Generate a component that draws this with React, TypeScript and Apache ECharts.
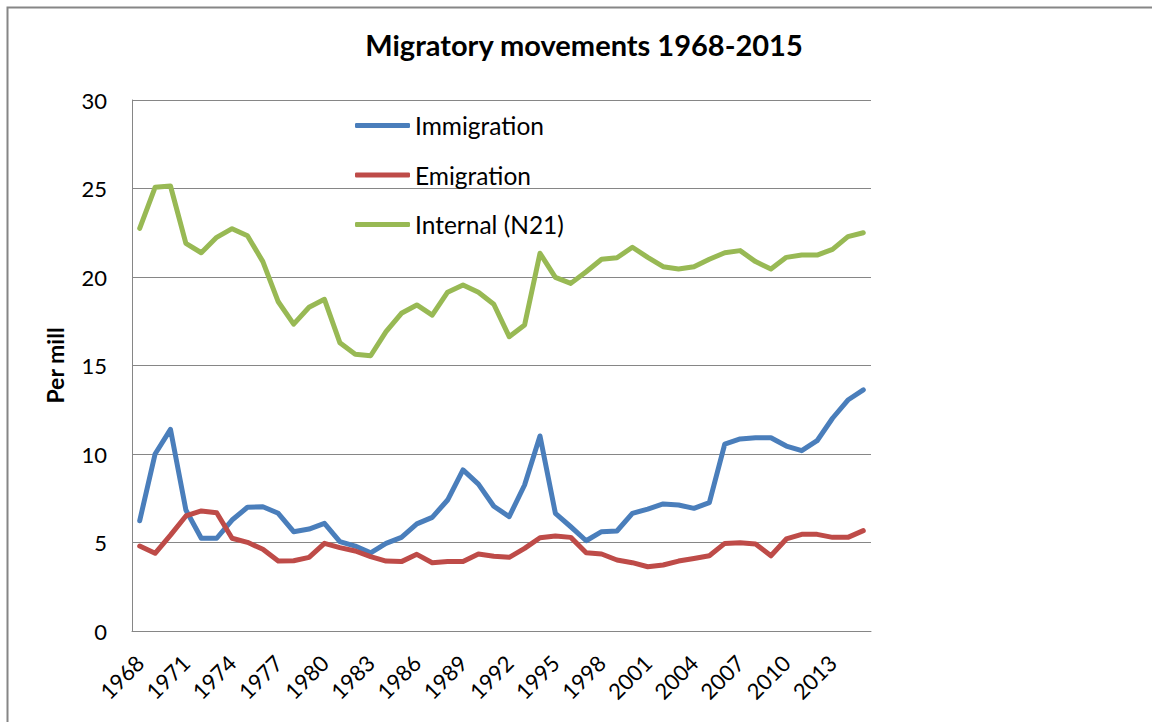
import React, { useEffect, useRef } from "react";
import * as echarts from "echarts";

const years: string[] = [];
for (let y = 1968; y <= 2015; y++) years.push(String(y));

const immigration = [
  6.23, 10.0, 11.39, 6.84, 5.24, 5.24, 6.27, 6.99, 7.02, 6.65, 5.61, 5.76,
  6.08, 5.05, 4.8, 4.42, 4.95, 5.29, 6.05, 6.42, 7.4, 9.1, 8.3, 7.05,
  6.46, 8.25, 11.02, 6.65, 5.89, 5.1, 5.61, 5.65, 6.65, 6.89, 7.18, 7.12,
  6.93, 7.25, 10.56, 10.85, 10.92, 10.92, 10.45, 10.19, 10.75, 12.02, 13.05, 13.62,
];

const emigration = [
  4.8, 4.39, 5.42, 6.5, 6.78, 6.68, 5.24, 5.01, 4.62, 3.95, 3.97, 4.16,
  4.95, 4.71, 4.52, 4.2, 3.95, 3.92, 4.33, 3.86, 3.92, 3.92, 4.35, 4.22,
  4.16, 4.67, 5.27, 5.37, 5.29, 4.42, 4.35, 4.01, 3.86, 3.63, 3.73, 3.95,
  4.1, 4.25, 4.95, 4.99, 4.92, 4.25, 5.2, 5.46, 5.46, 5.29, 5.29, 5.67,
];

const internal = [
  22.75, 25.07, 25.14, 21.9, 21.37, 22.24, 22.73, 22.33, 20.87, 18.6, 17.34, 18.29,
  18.74, 16.29, 15.63, 15.55, 16.91, 17.95, 18.42, 17.85, 19.14, 19.55, 19.14, 18.46,
  16.63, 17.29, 21.34, 19.98, 19.64, 20.3, 21.0, 21.09, 21.68, 21.11, 20.58, 20.45,
  20.58, 21.0, 21.37, 21.49, 20.87, 20.45, 21.11, 21.24, 21.24, 21.56, 22.28, 22.5,
];

const seriesNames = ["Immigration", "Emigration", "Internal (N21)"];
const colors = ["#4A7EBB", "#BE4B48", "#98B954"];

const FONT = "Lato";

export default function App() {
  const ref = useRef<HTMLDivElement>(null);
  useEffect(() => {
    if (!ref.current) return;
    const chart = echarts.init(ref.current, null, { renderer: "svg" });
    const dataSets = [immigration, emigration, internal];
    chart.setOption({
      animation: false,
      backgroundColor: "#ffffff",
      textStyle: { fontFamily: FONT },
      title: {
        text: "Migratory movements 1968-2015",
        left: 584,
        top: 30,
        padding: 0,
        textAlign: "center",
        textStyle: { fontFamily: FONT, fontSize: 29, fontWeight: "bold", color: "#000" },
      },
      graphic: [
        {
          type: "rect",
          shape: { x: 7.5, y: 7.5, width: 1200, height: 800 },
          style: { fill: "none", stroke: "#868686", lineWidth: 2 },
          silent: true,
          z: -1,
        },
      ],
      legend: {
        orient: "vertical",
        left: 355,
        top: 113,
        itemWidth: 55,
        itemHeight: 5,
        itemGap: 24.5,
        icon: "roundRect",
        padding: 0,
        textStyle: { fontFamily: FONT, fontSize: 24.5, color: "#000", lineHeight: 24, padding: [0, 0, 0, 0] },
        data: seriesNames,
      },
      grid: { left: 132, right: 281, top: 100, bottom: 91, containLabel: false },
      xAxis: {
        type: "category",
        data: years,
        boundaryGap: true,
        axisLine: { lineStyle: { color: "#868686", width: 1 } },
        axisTick: { show: false },
        axisLabel: {
          interval: 2,
          rotate: 45,
          margin: 28,
          fontFamily: FONT,
          fontSize: 22,
          color: "#000",
        },
      },
      yAxis: {
        type: "value",
        min: 0,
        max: 30,
        interval: 5,
        name: "Per mill",
        nameLocation: "middle",
        nameRotate: 90,
        nameGap: 66,
        nameTextStyle: { fontFamily: FONT, fontSize: 23, fontWeight: "bold", color: "#000" },
        axisLine: { show: true, lineStyle: { color: "#868686", width: 1 } },
        axisTick: { show: false },
        splitLine: { lineStyle: { color: "#868686", width: 1 } },
        axisLabel: { margin: 25, fontFamily: FONT, fontSize: 22, color: "#000" },
      },
      series: seriesNames.map((name, i) => ({
        name,
        type: "line",
        data: dataSets[i],
        showSymbol: false,
        symbol: "none",
        color: colors[i],
        lineStyle: { width: 5, color: colors[i], cap: "round", join: "round" },
      })),
    });
    return () => chart.dispose();
  }, []);
  return (
    <div
      ref={ref}
      style={{ position: "absolute", left: 0, top: 0, width: 1152, height: 722 }}
    />
  );
}
